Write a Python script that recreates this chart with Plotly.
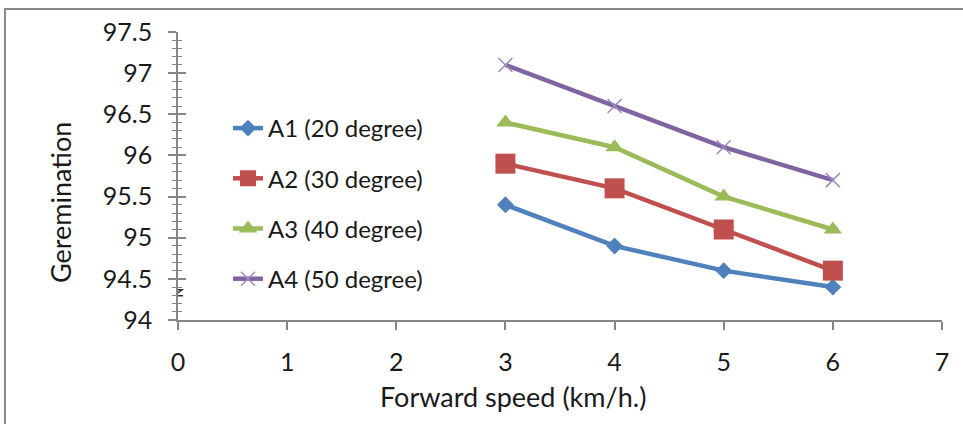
import plotly.graph_objects as go

speed = [3, 4, 5, 6]
a1 = [95.4, 94.9, 94.6, 94.4]
a2 = [95.9, 95.6, 95.1, 94.6]
a3 = [96.4, 96.1, 95.5, 95.1]
a4 = [97.1, 96.6, 96.1, 95.7]
names = ["A1 (20 degree)", "A2 (30 degree)", "A3 (40 degree)", "A4 (50 degree)"]
x_title = "Forward speed (km/h.)"
y_title = "Geremination"

FONT = "Lato"
FS = 24
L, R, T, B = 178, 21, 32, 104
W, H = 963, 424
PW, PH = W - L - R, H - T - B

def px_x(p):
    return (p - L) / PW

def px_y(p):
    return (H - B - p) / PH

fig = go.Figure()
styles = [
    ("#4F81BD", dict(symbol="diamond", size=13, color="#4F81BD")),
    ("#C0504D", dict(symbol="square", size=20, color="#C0504D")),
    ("#9BBB59", dict(symbol="triangle-up", size=16, color="#9BBB59")),
    ("#8064A2", dict(symbol="x-thin", size=14, color="#8064A2",
                     line=dict(color="#9C8AC0", width=1.5))),
]
for i, (vals, name) in enumerate(zip([a1, a2, a3, a4], names)):
    col, mk = styles[i]
    fig.add_trace(go.Scatter(
        x=speed, y=vals, name=name, mode="lines+markers",
        line=dict(color=col, width=4.5), marker=mk,
        legendgroup=f"g{i}",
    ))

# invisible trace for the inner half of the crossing y ticks
fig.add_trace(go.Scatter(x=[None], y=[None], yaxis="y2", showlegend=False))

axis_col = "#878787"
txt_col = "#1a1a1a"
fig.update_layout(
    width=W, height=H,
    margin=dict(l=L, r=R, t=T, b=B),
    paper_bgcolor="white", plot_bgcolor="white",
    font=dict(family=FONT, size=FS, color=txt_col),
    showlegend=True,
    legend=dict(x=px_x(228), y=px_y(106), xanchor="left", yanchor="top",
                bgcolor="rgba(0,0,0,0)", font=dict(size=FS, color=txt_col),
                traceorder="grouped", tracegroupgap=16),
    xaxis=dict(range=[0, 7], dtick=1, tick0=0, showgrid=False, zeroline=False,
               showline=True, linecolor=axis_col, linewidth=1.5,
               ticks="outside", ticklen=8, tickcolor=axis_col, tickwidth=1.5,
               ticklabelstandoff=11,
               tickfont=dict(size=25, color=txt_col)),
    yaxis=dict(range=[94, 97.5], dtick=0.5, tick0=94, showgrid=False, zeroline=False,
               showline=True, linecolor=axis_col, linewidth=1.5,
               ticks="outside", ticklen=8, tickcolor=axis_col, tickwidth=1.5,
               ticklabelstandoff=11,
               minor=dict(dtick=0.1, ticks="outside", ticklen=4,
                          tickcolor=axis_col, tickwidth=1, showgrid=False),
               tickfont=dict(size=25, color=txt_col)),
    yaxis2=dict(range=[94, 97.5], dtick=0.5, tick0=94, overlaying="y", side="left",
                showgrid=False, zeroline=False, showticklabels=False,
                ticks="inside", ticklen=8, tickcolor=axis_col, tickwidth=1.5,
                minor=dict(dtick=0.1, ticks="inside", ticklen=4,
                           tickcolor=axis_col, tickwidth=1, showgrid=False)),
    annotations=[
        dict(text=x_title, xref="paper", yref="paper", x=px_x(513), y=px_y(378),
             xanchor="center", yanchor="top", showarrow=False,
             font=dict(size=27, color=txt_col)),
        dict(text=y_title, xref="paper", yref="paper", x=px_x(60), y=px_y(203),
             xanchor="center", yanchor="middle", textangle=-90, showarrow=False,
             font=dict(size=27, color=txt_col)),
    ],
    shapes=[
        dict(type="rect", xref="paper", yref="paper",
             x0=px_x(5), x1=px_x(1000), y0=px_y(500), y1=px_y(9),
             line=dict(color="#8A8A8A", width=2), fillcolor="rgba(0,0,0,0)", layer="below"),
        dict(type="path", xref="x", yref="y", xsizemode="pixel", ysizemode="pixel",
             xanchor=0, yanchor=94.33,
             path="M -4,3 L 4,3 L -4,-3 L 5,-3",
             line=dict(color="#333", width=1.5)),
    ],
)

fig.write_html("out.html")
